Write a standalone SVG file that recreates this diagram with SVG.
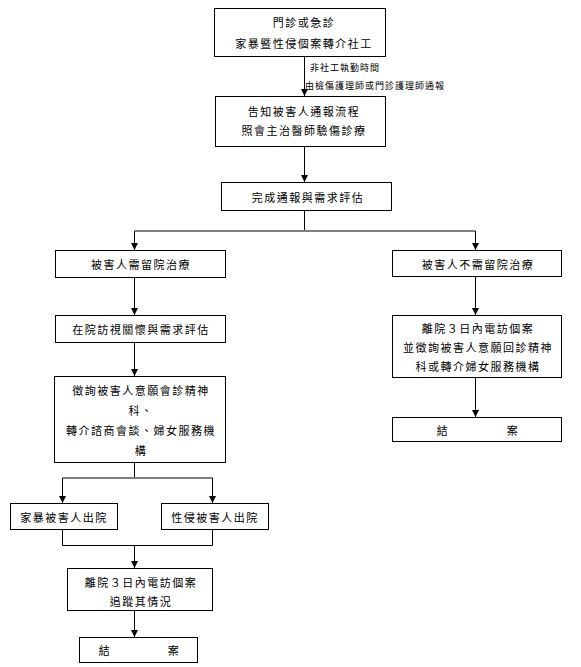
<svg xmlns="http://www.w3.org/2000/svg" width="581" height="667" viewBox="0 0 581 667">
<style>
.box{fill:#fff;stroke:#000;stroke-width:1}
.t{font-family:"Noto Sans CJK TC","Noto Sans CJK SC",sans-serif;font-size:11px;letter-spacing:1.5px;fill:#000;text-anchor:middle;dominant-baseline:central}
.lbl{font-family:"Noto Sans CJK TC","Noto Sans CJK SC",sans-serif;font-size:9px;letter-spacing:1px;fill:#000;dominant-baseline:central}
.ln{fill:none;stroke:#000;stroke-width:1}
.br{fill:none;stroke:#808080;stroke-width:2}
</style>
<defs>
<marker id="ah" markerWidth="8" markerHeight="8" refX="7" refY="4" orient="auto" markerUnits="userSpaceOnUse" viewBox="0 0 8 8">
<path d="M0,0.5 L7,4 L0,7.5 Z" fill="#000"/>
</marker>
</defs>
<rect width="581" height="667" fill="#fff"/>
<g id="connectors">
<line class="ln" x1="304.5" y1="56" x2="304.5" y2="96" marker-end="url(#ah)"/>
<line class="ln" x1="304.5" y1="147" x2="304.5" y2="182" marker-end="url(#ah)"/>
<line class="ln" x1="304.5" y1="211" x2="304.5" y2="231"/>
<line class="br" x1="134.5" y1="231" x2="475.5" y2="231"/>
<line class="ln" x1="134.5" y1="231" x2="134.5" y2="250" marker-end="url(#ah)"/>
<line class="ln" x1="475.5" y1="231" x2="475.5" y2="250" marker-end="url(#ah)"/>
<line class="ln" x1="134.5" y1="278" x2="134.5" y2="315" marker-end="url(#ah)"/>
<line class="ln" x1="134.5" y1="343" x2="134.5" y2="376" marker-end="url(#ah)"/>
<line class="ln" x1="134.5" y1="463" x2="134.5" y2="478"/>
<line class="br" x1="62.5" y1="478" x2="212.5" y2="478"/>
<line class="ln" x1="62.5" y1="478" x2="62.5" y2="503" marker-end="url(#ah)"/>
<line class="ln" x1="212.5" y1="478" x2="212.5" y2="503" marker-end="url(#ah)"/>
<polyline class="ln" points="62.5,530 62.5,545.5 212.5,545.5 212.5,530"/>
<line class="ln" x1="134.5" y1="545.5" x2="134.5" y2="568" marker-end="url(#ah)"/>
<line class="ln" x1="134.5" y1="611" x2="134.5" y2="637" marker-end="url(#ah)"/>
<line class="ln" x1="475.5" y1="277" x2="475.5" y2="315" marker-end="url(#ah)"/>
<line class="ln" x1="475.5" y1="378" x2="475.5" y2="417" marker-end="url(#ah)"/>
<text class="lbl" x="310" y="67">非社工執勤時間</text>
<text class="lbl" x="305" y="85">由檢傷護理師或門診護理師通報</text>
</g>
<g id="n1">
<rect class="box" x="214.5" y="8.5" width="171" height="48"/>
<text class="t" x="304" y="22">門診或急診</text>
<text class="t" x="304" y="43">家暴暨性侵個案轉介社工</text>
</g>
<g id="n2">
<rect class="box" x="215.5" y="96.5" width="170" height="50"/>
<text class="t" x="304" y="111">告知被害人通報流程</text>
<text class="t" x="304" y="130">照會主治醫師驗傷診療</text>
</g>
<g id="n3">
<rect class="box" x="221.5" y="182.5" width="170" height="28"/>
<text class="t" x="308" y="197">完成通報與需求評估</text>
</g>
<g id="a1">
<rect class="box" x="55.5" y="250.5" width="170" height="27"/>
<text class="t" x="141" y="264">被害人需留院治療</text>
</g>
<g id="b1">
<rect class="box" x="392.5" y="250.5" width="169" height="26"/>
<text class="t" x="478" y="264">被害人不需留院治療</text>
</g>
<g id="a2">
<rect class="box" x="55.5" y="315.5" width="170" height="27"/>
<text class="t" x="141" y="329">在院訪視關懷與需求評估</text>
</g>
<g id="a3">
<rect class="box" x="54.5" y="376.5" width="171" height="86"/>
<text class="t" x="141" y="390">徵詢被害人意願會診精神</text>
<text class="t" x="141" y="410">科、</text>
<text class="t" x="141" y="430">轉介諮商會談、婦女服務機</text>
<text class="t" x="141" y="450">構</text>
</g>
<g id="a4l">
<rect class="box" x="10.5" y="503.5" width="107" height="26"/>
<text class="t" x="64" y="517">家暴被害人出院</text>
</g>
<g id="a4r">
<rect class="box" x="161.5" y="503.5" width="107" height="26"/>
<text class="t" x="215" y="517">性侵被害人出院</text>
</g>
<g id="a5">
<rect class="box" x="67.5" y="568.5" width="145" height="42"/>
<text class="t" x="141" y="582">離院３日內電訪個案</text>
<text class="t" x="141" y="601">追蹤其情況</text>
</g>
<g id="a6">
<rect class="box" x="79.5" y="637.5" width="118" height="25"/>
<text class="t" y="650"><tspan x="105">結</tspan><tspan x="174">案</tspan></text>
</g>
<g id="b2">
<rect class="box" x="392.5" y="315.5" width="169" height="62"/>
<text class="t" x="478" y="328">離院３日內電訪個案</text>
<text class="t" x="478" y="347">並徵詢被害人意願回診精神</text>
<text class="t" x="478" y="366">科或轉介婦女服務機構</text>
</g>
<g id="b3">
<rect class="box" x="392.5" y="417.5" width="169" height="24"/>
<text class="t" y="430"><tspan x="443">結</tspan><tspan x="513">案</tspan></text>
</g>
</svg>
